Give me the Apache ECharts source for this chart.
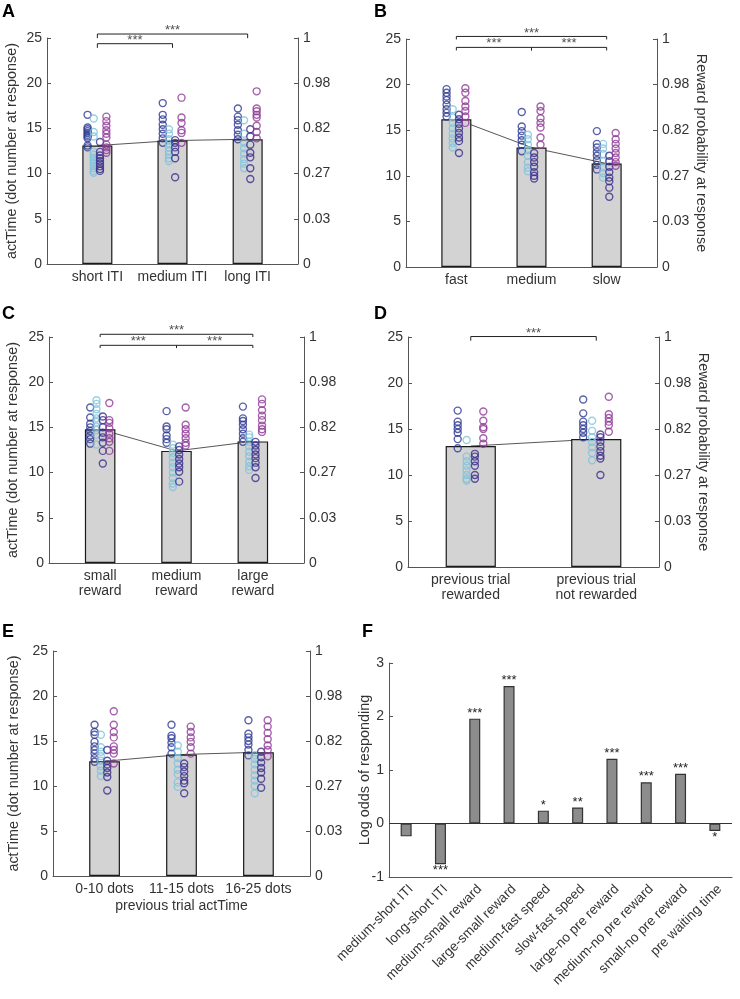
<!DOCTYPE html>
<html>
<head>
<meta charset="utf-8">
<script src="https://cdn.jsdelivr.net/npm/echarts@6/dist/echarts.min.js"></script>
<style>
  html, body { margin: 0; padding: 0; background: #fff; }
  #main { width: 740px; height: 999px; }
</style>
</head>
<body>
<div id="main"></div>
<script>
// right-hand axis of panels A-E
var rightTicks = ['0', '0.03', '0.27', '0.82', '0.98', '1'];

// A: ITI
var aCats = ['short ITI', 'medium ITI', 'long ITI'];
var aMeans = [13.1, 13.65, 13.8];
var aDark = [[16.5, 15.1, 14.9, 14.7, 14.5, 14.3, 14.1, 13.9, 13.1, 12.9], [17.8, 16.5, 16.0, 15.4, 14.9, 14.4, 13.9, 13.4], [17.2, 16.3, 15.9, 15.4, 14.8, 14.3, 13.8]];
var aLight = [[16.1, 14.6, 14.1, 12.4, 12.1, 11.8, 11.5, 11.2, 10.9, 10.6, 10.3, 10.1], [14.9, 14.4, 13.8, 13.3, 12.9, 12.5, 12.1, 11.7, 11.4], [15.9, 14.4, 13.4, 12.8, 12.2, 11.6, 11.1, 10.6]];
var aIndigo = [[13.5, 12.4, 12.0, 11.7, 11.4, 11.1, 10.8, 10.5, 10.3], [13.7, 13.4, 12.9, 12.4, 11.7, 9.6], [14.9, 14.1, 13.2, 12.3, 11.8, 10.6, 9.4]];
var aMagenta = [[16.3, 15.8, 15.3, 14.8, 14.4, 14.0, 13.2, 12.9, 12.6, 12.3], [18.4, 16.2, 15.6, 14.8, 14.5, 13.4], [19.1, 17.2, 16.9, 16.5, 16.2, 15.3, 14.6, 13.9]];
var aSig = [[1, 2, '***'], [1, 3, '***']];

// B: speed
var bCats = ['fast', 'medium', 'slow'];
var bMeans = [16.2, 13.1, 11.35];
var bDark = [[19.5, 19.1, 18.7, 18.3, 17.8, 17.3, 16.9, 16.5], [17.0, 15.4, 14.9, 14.4, 13.9, 13.4, 12.7], [14.9, 13.5, 13.1, 12.6, 12.2, 11.7, 11.2, 10.7]];
var bLight = [[17.3, 16.4, 15.8, 15.2, 14.6, 14.1, 13.6, 13.1], [14.5, 14.0, 13.4, 12.8, 12.2, 11.5, 10.9, 10.5], [13.5, 13.0, 12.4, 11.6, 10.9, 10.3, 9.8]];
var bIndigo = [[16.7, 16.2, 15.7, 15.2, 14.7, 14.2, 13.8, 12.5], [12.5, 12.0, 11.5, 11.0, 10.4, 10.0, 9.7], [12.2, 11.6, 11.0, 10.4, 9.8, 9.4, 8.7, 7.7]];
var bMagenta = [[19.6, 19.1, 18.2, 17.6, 17.1, 16.5, 15.8], [17.6, 17.1, 16.3, 15.8, 15.3, 14.2, 13.4], [14.7, 14.0, 13.5, 13.0, 12.5, 12.0, 11.5, 11.1]];
var bSig = [[1, 2, '***'], [2, 3, '***'], [1, 3, '***']];

// C: reward size
var cCats = ['small\nreward', 'medium\nreward', 'large\nreward'];
var cMeans = [14.8, 12.4, 13.45];
var cDark = [[17.2, 16.1, 15.4, 15.0, 14.6, 14.1, 13.7, 13.2], [16.8, 15.1, 14.8, 14.1, 13.7, 13.3], [17.3, 16.0, 15.7, 15.3, 14.8, 14.3, 13.8, 13.4]];
var cLight = [[18.0, 17.6, 17.0, 16.5, 16.0, 15.6, 15.1, 14.7, 14.2, 13.1], [13.1, 12.7, 12.2, 11.7, 11.1, 10.6, 10.0, 9.4, 8.8, 8.4], [14.2, 13.9, 13.4, 12.9, 12.3, 11.8, 11.2, 10.7, 10.3]];
var cIndigo = [[16.2, 15.8, 15.0, 14.4, 13.9, 13.3, 12.4, 11.0], [12.9, 12.5, 12.0, 11.5, 11.0, 10.6, 10.1, 9.0], [13.4, 13.0, 12.5, 12.0, 11.6, 11.1, 10.6, 9.4]];
var cMagenta = [[17.7, 15.8, 15.5, 14.9, 14.3, 13.8, 13.4, 12.4], [17.2, 15.3, 14.8, 14.3, 13.8, 13.3, 13.0], [18.1, 17.6, 16.9, 16.3, 15.8, 15.2, 14.8, 14.5]];
var cSig = [[1, 2, '***'], [2, 3, '***'], [1, 3, '***']];

// D: previous trial outcome
var dCats = ['previous trial\nrewarded', 'previous trial\nnot rewarded'];
var dMeans = [13.15, 13.9];
var dDark = [[17.0, 15.8, 15.4, 15.0, 14.6, 13.9, 12.9], [18.2, 16.7, 15.8, 15.4, 15.0, 14.6, 14.1]];
var dLight = [[13.8, 12.0, 11.5, 11.0, 10.5, 10.0, 9.6, 9.4], [15.9, 14.8, 14.1, 13.6, 13.0, 12.4, 11.6]];
var dIndigo = [[12.3, 12.0, 11.5, 11.0, 10.0, 9.6], [14.4, 14.1, 13.6, 13.1, 12.6, 12.1, 11.8, 10.0]];
var dMagenta = [[16.9, 15.9, 15.2, 15.0, 14.0, 13.4], [18.5, 16.6, 16.2, 15.8, 15.4, 14.7]];
var dSig = [[1, 2, '***']];

// E: previous trial actTime
var eCats = ['0-10 dots', '11-15 dots', '16-25 dots'];
var eMeans = [12.75, 13.5, 13.75];
var eDark = [[16.8, 16.0, 15.7, 14.9, 14.4, 14.0, 13.6, 13.1, 12.7], [16.8, 15.6, 15.3, 14.8, 14.3, 13.6], [17.3, 15.8, 15.4, 15.0, 14.6, 14.0, 13.4]];
var eLight = [[15.7, 14.3, 13.8, 13.3, 12.8, 12.2, 11.7, 11.1], [14.5, 13.8, 13.1, 12.5, 11.8, 11.3, 10.4, 9.9], [13.4, 13.0, 12.4, 11.8, 11.2, 10.6, 10.0, 9.2]];
var eIndigo = [[14.0, 12.8, 12.4, 12.0, 11.5, 11.0, 9.5], [12.5, 12.1, 11.6, 11.1, 10.6, 10.3, 9.2], [13.8, 13.2, 12.6, 12.0, 11.5, 10.8, 9.8]];
var eMagenta = [[18.3, 16.8, 16.0, 15.4, 14.4, 14.0, 13.6, 12.5], [16.6, 16.0, 15.4, 14.9, 14.3, 13.6], [17.3, 16.6, 15.9, 15.2, 14.5, 14.0, 13.3]];
var eSig = [];

// F: regression coefficients
var fCats = ['medium-short ITI', 'long-short ITI', 'medium-small reward', 'large-small reward', 'medium-fast speed', 'slow-fast speed', 'large-no pre reward', 'medium-no pre reward', 'small-no pre reward', 'pre waiting time'];
var fValues = [-0.24, -0.76, 1.96, 2.57, 0.24, 0.3, 1.21, 0.77, 0.93, -0.14];
var fStars = ['', '***', '***', '***', '*', '**', '***', '***', '***', '*'];

var FONT = 'Liberation Sans, Arial, sans-serif';
var AX = '#555';
var TXT = '#333';
var COLORS = ['#2e3a94', '#7fc3dc', '#3b2d8c', '#8e3a97'];

var grids = [], xAxes = [], yAxes = [], series = [];

function addPanel(p) {
  var gi = grids.length;
  grids.push({ left: p.box[0], top: p.box[1], width: p.box[2], height: p.box[3] });
  var xi = xAxes.length;
  xAxes.push({
    gridIndex: gi, type: 'value', min: p.xr[0], max: p.xr[1],
    axisLine: { lineStyle: { color: AX, width: 1 } },
    axisTick: { show: false }, splitLine: { show: false },
    axisLabel: {
      customValues: p.cats.map(function (c, i) { return i + 1; }),
      formatter: function (v) { return p.cats[Math.round(v) - 1]; },
      color: TXT, fontSize: 14, fontFamily: FONT, margin: 5, lineHeight: 15.5
    },
    name: p.xName || '', nameLocation: 'middle', nameGap: 23,
    nameTextStyle: { color: TXT, fontSize: 14, fontFamily: FONT }
  });
  var yi = yAxes.length;
  var yBase = {
    gridIndex: gi, type: 'value', min: 0, max: 25, interval: 5,
    axisLine: { show: true, lineStyle: { color: AX, width: 1 } },
    axisTick: { show: true, inside: true, length: 4, lineStyle: { color: AX } },
    splitLine: { show: false },
    nameLocation: 'middle',
    nameTextStyle: { color: TXT, fontSize: 14.4, fontFamily: FONT }
  };
  yAxes.push(Object.assign({}, yBase, {
    position: 'left',
    axisLabel: { color: TXT, fontSize: 14, fontFamily: FONT, margin: 5 },
    name: p.leftName || '', nameGap: p.leftGap || 0, nameRotate: 90
  }));
  yAxes.push(Object.assign({}, yBase, {
    position: 'right',
    axisLabel: { color: TXT, fontSize: 14, fontFamily: FONT, margin: 5,
      formatter: function (v) { return rightTicks[Math.round(v / 5)]; } },
    name: p.rightName || '', nameGap: p.rightGap || 0, nameRotate: -90
  }));

  var bw = 0.4 * p.box[2] / (p.xr[1] - p.xr[0]);
  // line through the means, under the bars
  series.push({
    type: 'line', xAxisIndex: xi, yAxisIndex: yi, z: 1, symbol: 'none',
    lineStyle: { color: '#444', width: 0.9 },
    data: p.means.map(function (m, i) { return [i + 1, m]; })
  });
  series.push({
    type: 'bar', xAxisIndex: xi, yAxisIndex: yi, z: 2, barWidth: bw,
    itemStyle: { color: '#d3d3d3', borderColor: '#1a1a1a', borderWidth: 1.2 },
    data: p.means.map(function (m, i) { return [i + 1, m]; })
  });
  p.groups.forEach(function (grp, g) {
    var pts = [];
    grp.forEach(function (vals, i) {
      vals.forEach(function (v) { pts.push([i + 1 + p.offs[g], v]); });
    });
    series.push({
      type: 'scatter', xAxisIndex: xi, yAxisIndex: yi, z: 3, symbol: 'circle', symbolSize: 7,
      itemStyle: { color: 'rgba(0,0,0,0)', borderColor: COLORS[g], borderWidth: 1.4 },
      data: pts
    });
  });
  p.sig.forEach(function (s, k) {
    var L = p.levels[k], t = p.drop;
    series.push({
      type: 'line', xAxisIndex: xi, yAxisIndex: yi, z: 4, symbol: 'none', clip: false,
      lineStyle: { color: '#222', width: 1 },
      data: [[s[0], L - t], [s[0], L], [s[1], L], [s[1], L - t]]
    });
    series.push({
      type: 'scatter', xAxisIndex: xi, yAxisIndex: yi, z: 4, symbolSize: 1, clip: false,
      itemStyle: { color: 'rgba(0,0,0,0)' },
      label: { show: true, position: 'top', distance: -3.5, formatter: s[2], color: '#222', fontSize: 13, fontFamily: FONT },
      data: [[(s[0] + s[1]) / 2, L]]
    });
  });
}

var offs3 = [-0.13, -0.048, 0.035, 0.12];
var offs2 = [-0.104, -0.033, 0.033, 0.1];

addPanel({ box: [47, 38, 251, 226], xr: [0.33, 3.67], cats: aCats, means: aMeans,
  groups: [aDark, aLight, aIndigo, aMagenta], offs: offs3,
  sig: aSig, levels: [24.37, 25.44], drop: 0.46,
  leftName: 'actTime (dot number at response)', leftGap: 28 });
addPanel({ box: [406, 39, 251, 228], xr: [0.33, 3.67], cats: bCats, means: bMeans,
  groups: [bDark, bLight, bIndigo, bMagenta], offs: offs3,
  sig: bSig, levels: [24.08, 24.08, 25.28], drop: 0.33,
  rightName: 'Reward probability at response', rightGap: 37 });
addPanel({ box: [49, 337, 255, 226], xr: [0.33, 3.67], cats: cCats, means: cMeans,
  groups: [cDark, cLight, cIndigo, cMagenta], offs: offs3,
  sig: cSig, levels: [24.08, 24.08, 25.3], drop: 0.3,
  leftName: 'actTime (dot number at response)', leftGap: 29 });
addPanel({ box: [408, 337, 251, 230], xr: [0.5, 2.5], cats: dCats, means: dMeans,
  groups: [dDark, dLight, dIndigo, dMagenta], offs: offs2,
  sig: dSig, levels: [25.05], drop: 0.45,
  rightName: 'Reward probability at response', rightGap: 37 });
addPanel({ box: [53, 651, 257, 225], xr: [0.33, 3.67], cats: eCats, means: eMeans,
  groups: [eDark, eLight, eIndigo, eMagenta], offs: offs3,
  sig: eSig, levels: [], drop: 0,
  leftName: 'actTime (dot number at response)', leftGap: 32,
  xName: 'previous trial actTime' });

// F
var fg = grids.length;
grids.push({ left: 389, top: 663, width: 343, height: 214 });
var fx = xAxes.length;
xAxes.push({
  gridIndex: fg, type: 'category', data: fCats, boundaryGap: true,
  axisLine: { onZero: false, lineStyle: { color: AX, width: 1 } },
  axisTick: { show: false },
  axisLabel: { interval: 0, rotate: 45, verticalAlign: 'top', color: TXT, fontSize: 13.5, fontFamily: FONT, margin: 5 }
});
var fy = yAxes.length;
yAxes.push({
  gridIndex: fg, type: 'value', min: -1, max: 3, interval: 1,
  axisLine: { show: true, lineStyle: { color: AX, width: 1 } },
  axisTick: { show: true, inside: true, length: 4, lineStyle: { color: AX } },
  splitLine: { show: false },
  axisLabel: { color: TXT, fontSize: 14, fontFamily: FONT, margin: 5 },
  name: 'Log odds of responding', nameLocation: 'middle', nameGap: 17, nameRotate: 90,
  nameMoveOverlap: false,
  nameTextStyle: { color: TXT, fontSize: 14.4, fontFamily: FONT }
});
series.push({
  type: 'bar', xAxisIndex: fx, yAxisIndex: fy, barWidth: 11, z: 2,
  itemStyle: { color: '#8c8c8c', borderColor: '#333', borderWidth: 1.2 },
  data: fValues.map(function (v, i) {
    return { value: v, label: { show: fStars[i] !== '', formatter: fStars[i],
      position: v >= 0 ? 'top' : 'bottom', distance: v >= 0 ? -1 : -0.5,
      color: '#222', fontSize: 13, fontFamily: FONT } };
  }),
  markLine: {
    silent: true, symbol: 'none', label: { show: false },
    lineStyle: { color: '#333', type: 'solid', width: 1 },
    data: [{ yAxis: 0 }]
  }
});

var letters = [['A', 2, 3], ['B', 374, 3], ['C', 2, 305], ['D', 374, 305], ['E', 2, 623], ['F', 362, 623]];

var chart = echarts.init(document.getElementById('main'), null, { renderer: 'canvas' });
chart.setOption({
  animation: false,
  backgroundColor: '#fff',
  textStyle: { fontFamily: FONT },
  grid: grids,
  xAxis: xAxes,
  yAxis: yAxes,
  series: series,
  graphic: letters.map(function (l) {
    return { type: 'text', left: l[1], top: l[2],
      style: { text: l[0], fill: '#000', font: 'bold 18px ' + FONT } };
  })
});
</script>
</body>
</html>
